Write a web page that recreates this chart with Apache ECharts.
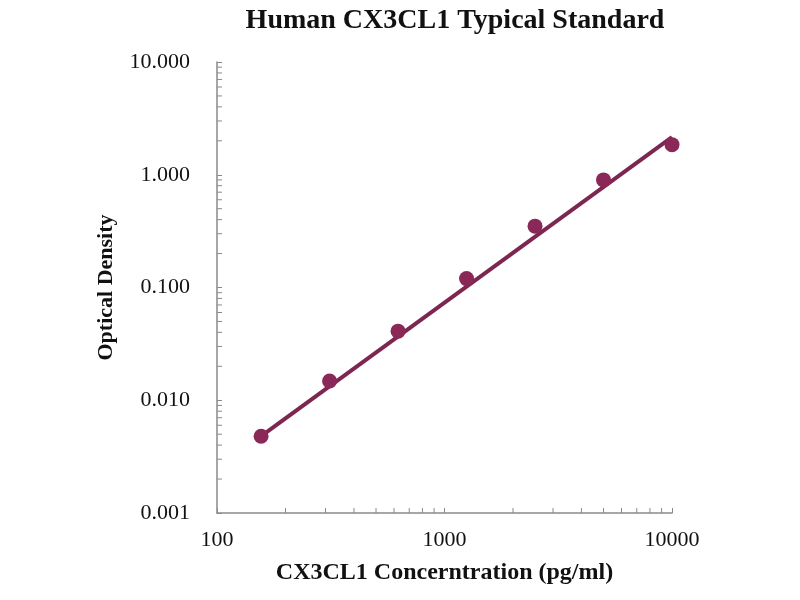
<!DOCTYPE html>
<html>
<head>
<meta charset="utf-8">
<script src="https://cdn.jsdelivr.net/npm/echarts@6/dist/echarts.min.js"></script>
<style>
  html, body { margin: 0; padding: 0; background: #fff; }
  #chart { width: 800px; height: 600px; }
</style>
</head>
<body>
<div id="chart"></div>
<script>
// standard points
const concentrations = [156.25, 312.5, 625, 1250, 2500, 5000, 10000];
const opticalDensity = [0.0048, 0.0148, 0.041, 0.12, 0.35, 0.90, 1.85];

// fitted power trend line (end points)
const trendX = [156.25, 10000];
const trendY = [0.0048, 2.16];

// minor tick values
const xMinorTicks = [200, 300, 400, 500, 600, 700, 800, 900,
  2000, 3000, 4000, 5000, 6000, 7000, 8000, 9000];
const yMinorTicks = [0.002, 0.003, 0.004, 0.005, 0.006, 0.007, 0.008, 0.009,
  0.02, 0.03, 0.04, 0.05, 0.06, 0.07, 0.08, 0.09,
  0.2, 0.3, 0.4, 0.5, 0.6, 0.7, 0.8, 0.9,
  2, 3, 4, 5, 6, 7, 8, 9];

const axisGray = '#8a8a8a';
const serif = '"Liberation Serif", "Times New Roman", serif';

const chart = echarts.init(document.getElementById('chart'));

const option = {
  animation: false,
  title: {
    text: 'Human CX3CL1 Typical Standard',
    left: 450,
    textAlign: 'center',
    top: 2,
    textStyle: {fontFamily: serif, fontWeight: 'bold', fontSize: 28, color: '#111'}
  },
  grid: {left: 217, right: 128, top: 62, bottom: 87},
  xAxis: {
    type: 'log',
    min: 100,
    max: 10000,
    logBase: 10,
    name: 'CX3CL1 Concerntration (pg/ml)',
    nameLocation: 'middle',
    nameGap: 48,
    nameTextStyle: {fontFamily: serif, fontWeight: 'bold', fontSize: 24, color: '#111'},
    axisLine: {lineStyle: {color: axisGray, width: 1.5}},
    axisTick: {inside: true, length: 5, lineStyle: {color: axisGray}},
    axisLabel: {
      fontFamily: serif, fontSize: 22, color: '#111', margin: 16,
      formatter: v => String(Math.round(v))
    },
    splitLine: {show: false}
  },
  yAxis: {
    type: 'log',
    min: 0.001,
    max: 10,
    logBase: 10,
    name: 'Optical Density',
    nameLocation: 'middle',
    nameGap: 100,
    nameTextStyle: {fontFamily: serif, fontWeight: 'bold', fontSize: 22, color: '#111'},
    axisLine: {show: true, lineStyle: {color: axisGray, width: 1.5}},
    axisTick: {show: true, inside: true, length: 5, lineStyle: {color: axisGray}},
    axisLabel: {
      fontFamily: serif, fontSize: 22, color: '#111', margin: 27,
      formatter: v => Number(v).toFixed(3)
    },
    splitLine: {show: false}
  },
  series: [
    {
      type: 'custom',
      silent: true,
      clip: false,
      data: xMinorTicks.map(v => [v, 0.001]),
      renderItem: (params, api) => {
        const p = api.coord([api.value(0), api.value(1)]);
        return {
          type: 'line',
          shape: {x1: p[0], y1: p[1], x2: p[0], y2: p[1] - 5},
          style: {stroke: axisGray, lineWidth: 1}
        };
      }
    },
    {
      type: 'custom',
      silent: true,
      clip: false,
      data: yMinorTicks.map(v => [100, v]),
      renderItem: (params, api) => {
        const p = api.coord([api.value(0), api.value(1)]);
        return {
          type: 'line',
          shape: {x1: p[0], y1: p[1], x2: p[0] + 5, y2: p[1]},
          style: {stroke: axisGray, lineWidth: 1}
        };
      }
    },
    {
      type: 'line',
      data: trendX.map((x, i) => [x, trendY[i]]),
      symbol: 'none',
      lineStyle: {color: '#7d2652', width: 4},
      z: 2
    },
    {
      type: 'scatter',
      data: concentrations.map((x, i) => [x, opticalDensity[i]]),
      symbolSize: 15,
      itemStyle: {color: '#8a2858', opacity: 1},
      z: 3
    }
  ]
};

chart.setOption(option);
</script>
</body>
</html>
